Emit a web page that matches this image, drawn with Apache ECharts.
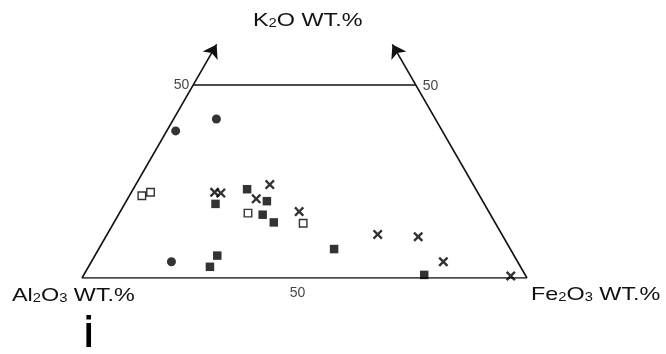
<!DOCTYPE html>
<html>
<head>
<meta charset="utf-8">
<script src="https://cdn.jsdelivr.net/npm/echarts@6/dist/echarts.min.js"></script>
<style>
  html, body { margin: 0; padding: 0; background: #fff; }
  #chart { width: 666px; height: 354px; }
</style>
</head>
<body>
<div id="chart"></div>
<script>
// Compositions in wt.% as [Al2O3, K2O, Fe2O3]
const filledCircles = [
  [49.2, 41.2, 9.6],
  [59.9, 38.1, 2.0],
  [77.8, 4.2, 18.0]
];
const openSquares = [
  [75.9, 21.3, 2.8],
  [73.5, 22.2, 4.3],
  [54.3, 16.8, 28.9],
  [43.2, 14.2, 42.6]
];
const crosses = [
  [59.1, 22.2, 18.7],
  [57.8, 22.0, 20.2],
  [45.7, 24.2, 30.1],
  [50.6, 20.5, 28.9],
  [42.6, 17.2, 40.2],
  [27.9, 11.3, 60.8],
  [19.1, 10.7, 70.2],
  [16.7, 4.2, 79.1],
  [3.4, 0.5, 96.1]
];
const filledSquares = [
  [60.4, 19.2, 20.4],
  [51.4, 23.0, 25.6],
  [48.5, 19.9, 31.6],
  [51.2, 16.4, 32.4],
  [49.7, 14.4, 35.9],
  [39.6, 7.5, 52.9],
  [66.7, 5.8, 27.5],
  [69.8, 2.9, 27.3],
  [22.7, 0.8, 76.5]
];
// Scale marks along the diagram edges (K2O = 50 on both sides, Fe2O3 = 50 on the base)
const tickLabels = [
  { comp: [50, 50, 0], text: '50', pos: 'left' },
  { comp: [0, 50, 50], text: '50', pos: 'right' },
  { comp: [50, 0, 50], text: '50', pos: 'bottom' }
];
const kCut = 50;      // the diagram is cut at 50 % K2O
const arrowTo = 60.5; // K2O axes continue upward as arrows

// ternary [Al2O3, K2O, Fe2O3] -> plane coordinates (x along base, y = K2O)
function toXY(c) {
  const s = c[0] + c[1] + c[2];
  const k = c[1] / s * 100, f = c[2] / s * 100;
  return [f + k / 2, k];
}

const crossPath = 'path://M0,1.7L1.7,0L5,3.3L8.3,0L10,1.7L6.7,5L10,8.3L8.3,10L5,6.7L1.7,10L0,8.3L3.3,5Z';

const frame = [
  [toXY([100, 0, 0]), toXY([0, 0, 100])],
  [toXY([100 - kCut, kCut, 0]), toXY([0, kCut, 100 - kCut])]
];
const arrows = [
  [toXY([100, 0, 0]), toXY([100 - arrowTo, arrowTo, 0])],
  [toXY([0, 0, 100]), toXY([0, arrowTo, 100 - arrowTo])]
];

const chart = echarts.init(document.getElementById('chart'), null, { renderer: 'canvas' });
const font = '"Liberation Sans", Arial, Helvetica, sans-serif';

// oxide name with subscripts, drawn slightly widened like the lettering of the plate
function oxideLabel(text, x, y) {
  return {
    type: 'text', x: x, y: y, scaleX: 1.23, scaleY: 1,
    style: {
      text: text, fill: '#111', font: '19px ' + font,
      verticalAlign: 'middle', align: 'left',
      rich: {
        m: { fontFamily: font, fontSize: 19, fill: '#111', color: '#111' },
        s: { fontFamily: font, fontSize: 12, fill: '#111', color: '#111', verticalAlign: 'bottom', padding: [0, 0, 1, 0] }
      }
    }
  };
}

// per-label nudges so the edge numbers sit where they are lettered
const tickLabelStyle = {
  left:   { distance: 4, offset: [0, 0] },
  right:  { distance: 7, offset: [0, 1] },
  bottom: { distance: 8, offset: [-7, 0] }
};

chart.setOption({
  animation: false,
  backgroundColor: '#fff',
  graphic: [
    oxideLabel('{m|K}{s|2}{m|O WT.%}', 253, 21),
    oxideLabel('{m|Al}{s|2}{m|O}{s|3}{m| WT.%}', 12, 296),
    oxideLabel('{m|Fe}{s|2}{m|O}{s|3}{m| WT.%}', 531, 295),
    {
      type: 'text', x: 84, y: 335, scaleX: 0.85, scaleY: 1.1,
      style: { text: 'i', font: 'bold 40px ' + font, fill: '#000', verticalAlign: 'middle' }
    }
  ],
  grid: { left: 82, width: 445, top: 42.54, height: 235.46 },
  xAxis: { type: 'value', min: 0, max: 100, show: false },
  yAxis: { type: 'value', min: 0, max: 61, show: false },
  series: [
    {
      type: 'lines', coordinateSystem: 'cartesian2d', polyline: false,
      lineStyle: { color: '#111', width: 1.6, opacity: 1 },
      data: frame.map(c => ({ coords: c })),
      symbol: ['none', 'none'], z: 1
    },
    {
      type: 'lines', coordinateSystem: 'cartesian2d', polyline: false,
      lineStyle: { color: '#111', width: 1.6, opacity: 1 },
      data: arrows.map(c => ({ coords: c })),
      symbol: ['none', 'arrow'], symbolSize: [6, 13], z: 1
    },
    {
      type: 'scatter', symbol: 'circle', symbolSize: 9,
      itemStyle: { color: '#000' },
      data: filledCircles.map(toXY), z: 3
    },
    {
      type: 'scatter', symbol: 'rect', symbolSize: 8.5,
      itemStyle: { color: '#000' },
      data: filledSquares.map(toXY), z: 3
    },
    {
      type: 'scatter', symbol: 'rect', symbolSize: 7.5,
      itemStyle: { color: '#fff', borderColor: '#000', borderWidth: 1.4 },
      data: openSquares.map(toXY), z: 3
    },
    {
      type: 'scatter', symbol: crossPath, symbolSize: 10,
      itemStyle: { color: '#000' },
      data: crosses.map(toXY), z: 3
    },
    {
      type: 'scatter', symbolSize: 0, silent: true,
      data: tickLabels.map(t => ({
        value: toXY(t.comp),
        label: { show: true, formatter: t.text, position: t.pos,
                 distance: tickLabelStyle[t.pos].distance, offset: tickLabelStyle[t.pos].offset,
                 fontFamily: font, fontSize: 14, color: '#111' }
      })), z: 4
    }
  ]
});
</script>
</body>
</html>
